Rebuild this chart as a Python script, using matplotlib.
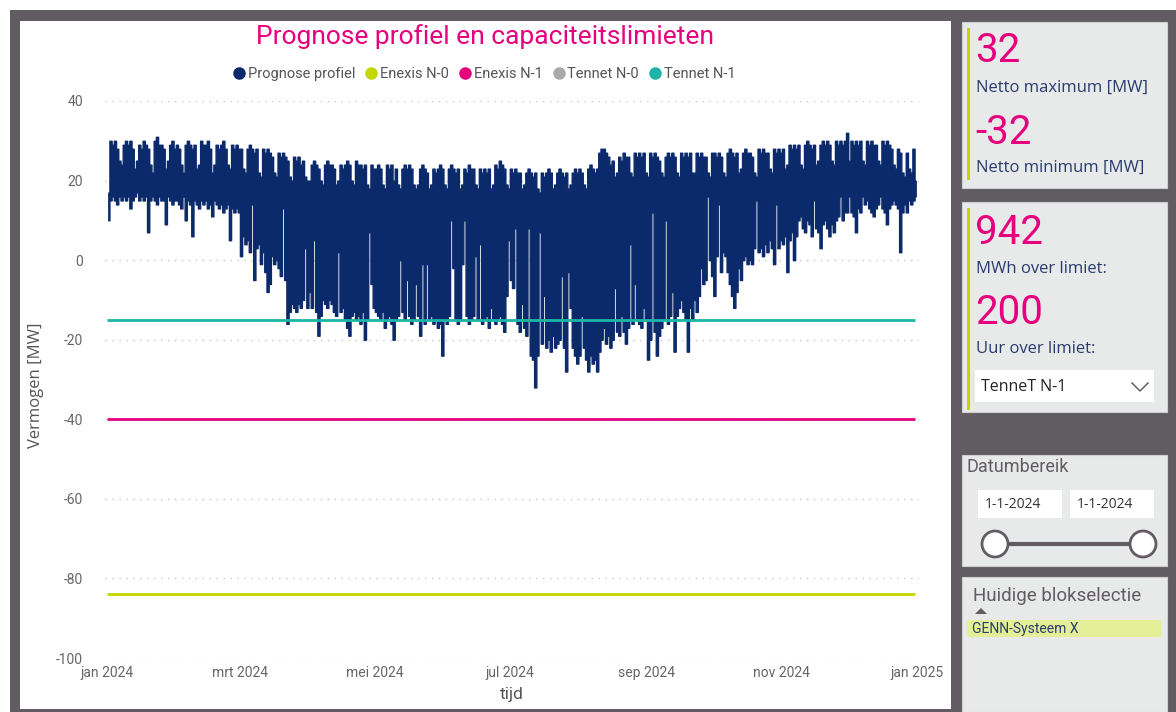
import matplotlib
matplotlib.use("Agg")
import matplotlib.pyplot as plt
import numpy as np
import pandas as pd
from matplotlib.lines import Line2D
from matplotlib.patches import Rectangle, Circle, Polygon

plt.rcParams["axes.unicode_minus"] = False

# ---- Data (read from the dashboard) ----
# daily maximum of the forecast profile [MW], one line per month
prognose_max = [
    17, 30, 29, 30, 28, 25, 24, 29, 30, 29, 30, 28, 23, 25, 29, 28, 30, 29, 28, 24, 22, 30, 31, 29, 29, 28, 23, 25, 29, 30, 28,
    29, 28, 24, 22, 29, 30, 29, 28, 29, 23, 24, 30, 29, 29, 30, 28, 22, 24, 29, 28, 29, 30, 28, 24, 23, 29, 28, 29, 28,
    28, 23, 22, 28, 29, 28, 27, 28, 22, 21, 28, 27, 28, 27, 26, 22, 21, 27, 26, 27, 26, 25, 21, 20, 26, 25, 26, 24, 25, 21, 20,
    20, 24, 25, 24, 23, 20, 19, 24, 25, 24, 24, 23, 19, 20, 24, 23, 24, 25, 24, 20, 19, 25, 24, 24, 23, 24, 19, 18, 24, 23,
    23, 24, 23, 19, 18, 24, 23, 24, 20, 23, 19, 18, 23, 24, 23, 24, 23, 19, 18, 19, 23, 24, 23, 22, 18, 19, 23, 22, 23, 24, 23,
    19, 18, 23, 24, 23, 22, 23, 18, 19, 23, 22, 24, 23, 23, 19, 18, 23, 22, 23, 22, 23, 18, 19, 24, 23, 25, 24, 23, 19, 18,
    23, 22, 23, 22, 22, 18, 19, 22, 23, 22, 21, 22, 18, 17, 22, 21, 22, 23, 22, 18, 19, 22, 23, 22, 21, 22, 18, 19, 22, 23, 22,
    23, 22, 19, 18, 23, 24, 23, 22, 23, 27, 28, 28, 27, 26, 24, 25, 21, 22, 26, 25, 27, 26, 26, 22, 21, 27, 26, 27, 26, 27, 22,
    21, 27, 26, 27, 26, 25, 22, 21, 26, 27, 26, 27, 26, 22, 21, 27, 26, 27, 26, 27, 22, 22, 27, 26, 27, 26, 26, 22, 21, 27,
    27, 26, 27, 26, 22, 21, 27, 28, 27, 26, 27, 22, 23, 27, 28, 27, 27, 26, 22, 21, 28, 27, 28, 27, 27, 23, 22, 28, 27, 28, 27,
    28, 23, 24, 29, 28, 29, 28, 29, 24, 23, 29, 30, 29, 28, 29, 24, 25, 29, 30, 29, 30, 29, 25, 24, 30, 29, 30, 29, 30, 32,
    25, 30, 29, 30, 29, 30, 25, 24, 30, 29, 30, 29, 29, 25, 24, 30, 29, 30, 29, 28, 24, 23, 28, 27, 22, 21, 27, 23, 22, 28, 20,
]
# daily minimum of the forecast profile [MW]
prognose_min = [
    10, 15, 16, 15, 14, 16, 15, 16, 15, 16, 13, 15, 16, 17, 15, 16, 15, 16, 7, 15, 16, 15, 14, 16, 15, 15, 9, 16, 15, 14, 15,
    15, 14, 13, 16, 10, 15, 14, 6, 15, 14, 13, 15, 14, 15, 13, 14, 11, 15, 14, 13, 14, 12, 13, 14, 5, 13, 12, 13, 12,
    1, 6, 4, 5, 2, 14, -5, 3, 4, -1, 2, -3, -8, -6, 1, -1, 0, -2, -4, 13, -5, -16, -13, -11, -12, -13, -11, -12, -10, 3, -12,
    -8, -12, 5, -13, -19, -14, -10, -11, -12, -10, -11, -13, -14, 2, -13, -12, -15, -17, -19, -14, -13, -15, -14, -16, -13, -20, -15, 7, -6, -12,
    -13, -14, -15, -13, -17, -15, -14, -16, -20, -15, -14, 0, -13, -15, -5, -14, -16, -15, -6, -14, -19, -1, -16, -1, -15, -14, -16, -15, -17, -16, -24,
    -15, -16, -14, 10, -2, -15, -16, -15, -1, 10, -14, -16, -15, -14, 1, -15, 4, -16, -15, -14, -17, -12, -15, -16, -15, -14, -16, -18, -9, 5,
    -5, -7, 8, -16, -18, -11, -17, -19, 8, -24, -25, -32, -24, 7, -21, -9, -22, -20, -23, -19, -22, -21, -20, -4, -22, -28, -3, -12, -22, -24, -26,
    -24, -14, -22, -25, -28, -24, -26, -25, -28, -23, -20, -17, -21, -19, -22, -20, -7, -18, -19, -14, -18, -21, -17, 4, -16, -6, -15, -16, -17, -12, -15,
    -25, -20, 12, -18, -24, -19, -17, -15, 10, -16, -14, -8, -23, -14, -12, -10, -13, -15, -23, -12, -15, -10, -13, -9, -2, -6, -5, 16, 0, -4,
    -9, 1, 14, -3, 2, 1, -3, -6, -9, -12, -8, -2, -5, 0, 1, -1, 0, -1, 3, 15, 2, 3, 1, 4, 2, 5, 3, -1, 14, 3, 5,
    4, 6, -3, 5, 7, 0, 6, 10, 11, 8, 7, 10, 9, 6, 15, 8, 7, 3, 9, 10, 8, 6, 9, 7, 10, 11, 16, 10, 12, 12,
    16, 12, 11, 7, 13, 12, 16, 14, 15, 13, 12, 11, 13, 14, 16, 13, 12, 9, 13, 14, 15, 14, 13, 2, 12, 14, 12, 15, 14, 15, 16,
]
start_datum = "2024-01-01"

# capacity limits [MW]; Tennet N-0 has no value in view
limiet_namen = ["Enexis N-0", "Enexis N-1", "Tennet N-0", "Tennet N-1"]
limiet_waarden = [-84, -40, None, -15]

y_ticks = [40, 20, 0, -20, -40, -60, -80, -100]
x_tick_datums = ["2024-01-01", "2024-03-01", "2024-05-01", "2024-07-01", "2024-09-01", "2024-11-01", "2025-01-01"]
x_tick_labels = ["jan 2024", "mrt 2024", "mei 2024", "jul 2024", "sep 2024", "nov 2024", "jan 2025"]

netto_max = 32
netto_min = -32
mwh_over_limiet = 942
uur_over_limiet = 200
gekozen_limiet = "TenneT N-1"
datum_van = "1-1-2024"
datum_tot = "1-1-2024"
blokselectie = "GENN-Systeem X"

# ---- Style ----
NAVY = "#0B2A6B"
PINK = "#E6007E"
LIME = "#C4D600"
TEAL = "#1DB5A6"
GREY_LINE = "#AAAAAA"
DARK_BG = "#615C61"
PANEL = "#E8E9E9"
LABEL_BLUE = "#283C6E"
limiet_kleuren = [LIME, PINK, GREY_LINE, TEAL]

NARROW = ["Roboto", "DejaVu Sans"]
SANS = ["Open Sans", "DejaVu Sans"]

W, H = 1176, 712
fig = plt.figure(figsize=(W / 100, H / 100), dpi=100)
fig.patch.set_facecolor("white")

# background canvas in pixel units (y downwards)
bg = fig.add_axes([0, 0, 1, 1], zorder=0)
bg.set_xlim(0, W)
bg.set_ylim(H, 0)
bg.axis("off")

bg.add_patch(Rectangle((10, 10), W - 10, H - 10, facecolor=DARK_BG, edgecolor="none"))
bg.add_patch(Rectangle((20, 21), 931, H - 24, facecolor="white", edgecolor="none"))

# right side cards
for (y0, y1) in [(22, 188), (202, 412), (455, 566), (577, 712)]:
    bg.add_patch(Rectangle((962, y0), 205, y1 - y0, facecolor=PANEL, edgecolor="#CFCFCF", lw=0.8))
bg.add_patch(Rectangle((967, 28), 2.5, 152, facecolor=LIME, edgecolor="none"))
bg.add_patch(Rectangle((967, 208), 2.5, 202, facecolor=LIME, edgecolor="none"))

big = dict(color=PINK, fontsize=29, family=NARROW, va="center", ha="left")
lab = dict(color=LABEL_BLUE, fontsize=12, family=SANS, va="center", ha="left")
bg.text(975, 51, f"{netto_max}", **big)
bg.text(976, 88, "Netto maximum [MW]", **lab)
bg.text(975, 132, f"{netto_min}", **big)
bg.text(976, 168, "Netto minimum [MW]", **lab)
bg.text(975, 232, f"{mwh_over_limiet}", **big)
bg.text(976, 269, "MWh over limiet:", **lab)
bg.text(975, 312, f"{uur_over_limiet}", **big)
bg.text(976, 349, "Uur over limiet:", **lab)

# dropdown
bg.add_patch(Rectangle((975, 370), 179, 32, facecolor="white", edgecolor="none"))
bg.text(981, 387, gekozen_limiet, color="#222222", fontsize=11.5, family=SANS, va="center")
bg.add_line(Line2D([1132, 1140, 1148], [383, 391, 383], color="#555555", lw=1.0))

# date range slicer
bg.text(967, 467, "Datumbereik", color=DARK_BG, fontsize=13, family=NARROW, va="center")
for x0, txt in [(978, datum_van), (1070, datum_tot)]:
    bg.add_patch(Rectangle((x0, 490), 84, 28, facecolor="white", edgecolor="none"))
    bg.text(x0 + 7, 504, txt, color="#333333", fontsize=10, family=SANS, va="center")
bg.add_line(Line2D([995, 1143], [544, 544], color=DARK_BG, lw=3))
for cx in [995, 1143]:
    bg.add_patch(Circle((cx, 544), 13, facecolor="white", edgecolor=DARK_BG, lw=2, zorder=3))

# block selection
bg.text(973, 596, "Huidige blokselectie", color=DARK_BG, fontsize=13.5, family=NARROW, va="center")
bg.add_patch(Polygon([[975, 614], [981, 608], [987, 614]], closed=True, facecolor=DARK_BG, edgecolor="none"))
bg.add_patch(Rectangle((967, 620), 194, 17, facecolor="#E5EF98", edgecolor="none"))
bg.text(972, 629, blokselectie, color=LABEL_BLUE, fontsize=10, family=NARROW, va="center")

# ---- Main chart ----
ax_l, ax_r, ax_t, ax_b = 105, 919, 101, 658
ax = fig.add_axes([ax_l / W, 1 - ax_b / H, (ax_r - ax_l) / W, (ax_b - ax_t) / H], zorder=2)
ax.patch.set_alpha(0)

dagen = pd.date_range(start_datum, periods=len(prognose_max), freq="D") + pd.Timedelta(hours=12)
ax.fill_between(dagen, prognose_min, prognose_max, step="mid", facecolor=NAVY,
                edgecolor=NAVY, linewidth=1.0, zorder=3)

x0 = pd.Timestamp("2024-01-01")
x1 = pd.Timestamp("2025-01-01")
for waarde, kleur in zip(limiet_waarden, limiet_kleuren):
    if waarde is not None:
        ax.plot([x0, x1 - pd.Timedelta(days=1)], [waarde, waarde], color=kleur, lw=2, zorder=4,
                solid_capstyle="butt")

ax.set_xlim(x0 - pd.Timedelta(days=1), x1 + pd.Timedelta(days=1))
ax.set_ylim(-100, 40)
ax.set_yticks(y_ticks)
ax.set_xticks(pd.to_datetime(x_tick_datums))
ax.set_xticklabels(x_tick_labels)
ax.grid(axis="y", color="#C8C8C8", linestyle=(0, (1, 4)), lw=1)
ax.set_axisbelow(True)
for s in ax.spines.values():
    s.set_visible(False)
ax.tick_params(length=0, labelcolor="#666666", labelsize=10)
ax.tick_params(axis="y", pad=16)
ax.tick_params(axis="x", pad=6)
for t in ax.get_xticklabels() + ax.get_yticklabels():
    t.set_family(NARROW)

ax.set_xlabel("tijd", color="#555555", fontsize=12.5, family=NARROW, labelpad=5)
ax.set_ylabel("Vermogen [MW]", color="#555555", fontsize=12, family=SANS)
ax.yaxis.set_label_coords((44 - ax_l) / (ax_r - ax_l), (ax_b - 385) / (ax_b - ax_t))

fig.text(485 / W, 1 - 37 / H, "Prognose profiel en capaciteitslimieten", color=PINK,
         fontsize=19, family=NARROW, ha="center", va="center")

handles = [Line2D([], [], marker="o", ls="none", color=NAVY, markersize=8)]
handles += [Line2D([], [], marker="o", ls="none", color=k, markersize=8) for k in limiet_kleuren]
fig.legend(handles, ["Prognose profiel"] + limiet_namen, loc="center", ncol=5,
           bbox_to_anchor=(483 / W, 1 - 74 / H), frameon=False, handletextpad=0.0,
           columnspacing=0.5, prop={"family": NARROW, "size": 10.5}, labelcolor="#555555",
           handlelength=1.2)

fig.savefig("out.png", dpi=100)
